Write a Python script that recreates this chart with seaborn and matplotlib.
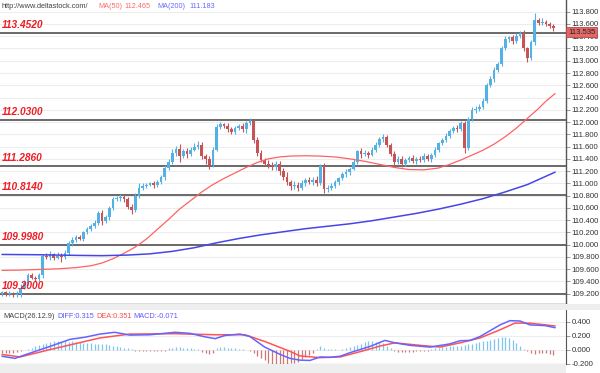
import numpy as np
import pandas as pd
import matplotlib
matplotlib.use("Agg")
import matplotlib.pyplot as plt
import seaborn as sns
from matplotlib.patches import Rectangle

#%% data
closes = [
    109.22, 109.19, 109.21, 109.18, 109.20, 109.30, 109.38, 109.50, 109.46, 109.44,
    109.50, 109.82, 109.80, 109.84, 109.79, 109.82, 109.80, 109.86, 110.02, 110.08,
    110.12, 110.10, 110.20, 110.25, 110.30, 110.36, 110.52, 110.38, 110.45, 110.60,
    110.74, 110.76, 110.78, 110.74, 110.62, 110.56, 110.80, 110.92, 110.96, 110.98,
    111.00, 110.97, 111.02, 111.10, 111.25, 111.35, 111.50, 111.56, 111.45, 111.52,
    111.48, 111.55, 111.60, 111.63, 111.45, 111.40, 111.30, 111.55, 111.92, 111.96,
    111.94, 111.88, 111.84, 111.90, 111.93, 111.88, 111.98, 112.02, 111.70, 111.50,
    111.38, 111.32, 111.30, 111.26, 111.32, 111.20, 111.10, 111.02, 110.95, 110.98,
    110.92, 111.00, 111.05, 111.02, 111.06, 111.00, 111.28, 110.90, 110.92, 110.96,
    111.02, 111.08, 111.15, 111.18, 111.24, 111.35, 111.52, 111.48, 111.50, 111.47,
    111.55, 111.62, 111.72, 111.75, 111.62, 111.48, 111.35, 111.40, 111.32, 111.38,
    111.42, 111.36, 111.40, 111.38, 111.44, 111.40, 111.46, 111.55, 111.65, 111.70,
    111.78, 111.85, 111.90, 111.88, 111.98, 111.58, 112.05, 112.20, 112.22, 112.25,
    112.35, 112.60, 112.70, 112.85, 112.95, 113.20, 113.35, 113.38, 113.32, 113.40,
    113.45, 113.20, 113.04, 113.30, 113.66, 113.62, 113.64, 113.60, 113.57, 113.535,
]
first_open = 109.20

# wick lengths above / below the body
upper_wick = [
    .03, .02, .03, .02, .04, .05, .04, .03, .04, .03,
    .03, .03, .04, .05, .03, .06, .04, .05, .04, .05,
    .03, .04, .03, .04, .03, .04, .03, .05, .04, .03,
    .04, .03, .04, .03, .03, .04, .05, .08, .04, .03,
    .03, .04, .03, .04, .05, .04, .06, .05, .08, .04,
    .05, .04, .05, .06, .04, .03, .05, .04, .05, .04,
    .03, .04, .04, .03, .04, .05, .04, .04, .03, .05,
    .05, .04, .06, .05, .04, .04, .05, .08, .03, .06,
    .04, .05, .04, .05, .04, .06, .04, .05, .06, .05,
    .04, .03, .04, .05, .03, .04, .03, .05, .04, .03,
    .04, .05, .04, .05, .04, .03, .04, .05, .04, .03,
    .03, .04, .03, .04, .05, .04, .03, .04, .03, .04,
    .04, .03, .04, .05, .04, .04, .03, .05, .04, .04,
    .04, .03, .05, .04, .03, .04, .05, .03, .04, .05,
    .04, .05, .03, .04, .12, .04, .05, .03, .04, .03,
]
lower_wick = [
    .04, .03, .02, .04, .03, .06, .03, .04, .02, .03,
    .03, .04, .03, .05, .04, .03, .08, .04, .03, .04,
    .03, .02, .04, .03, .03, .03, .04, .06, .03, .04,
    .03, .03, .04, .05, .04, .06, .03, .04, .03, .04,
    .03, .04, .03, .03, .04, .03, .04, .05, .10, .04,
    .06, .04, .03, .04, .05, .08, .06, .04, .03, .04,
    .04, .05, .03, .04, .03, .04, .06, .03, .04, .05,
    .04, .03, .05, .04, .04, .06, .05, .04, .06, .04,
    .04, .03, .04, .03, .04, .05, .03, .06, .04, .03,
    .03, .04, .03, .04, .05, .03, .04, .06, .04, .05,
    .03, .04, .03, .04, .03, .04, .06, .04, .05, .04,
    .04, .03, .04, .03, .04, .03, .05, .03, .04, .03,
    .03, .04, .03, .04, .03, .08, .04, .03, .05, .04,
    .03, .04, .03, .04, .03, .04, .03, .05, .04, .03,
    .03, .04, .06, .03, .04, .04, .03, .04, .03, .05,
]

# moving averages (candle index, value)
ma50_idx = [0, 5, 10, 15, 20, 24, 27, 30, 33, 36, 39, 42, 45, 48, 51, 54, 57, 60, 63,
            66, 69, 72, 75, 78, 82, 86, 90, 94, 98, 102, 106, 110, 114, 118, 121, 124,
            127, 130, 133, 136, 139, 142, 145, 147, 149.5]
ma50_val = [109.580, 109.585, 109.595, 109.605, 109.625, 109.655, 109.700, 109.770,
            109.860, 109.960, 110.090, 110.250, 110.410, 110.580, 110.720, 110.860,
            110.980, 111.080, 111.170, 111.260, 111.340, 111.400, 111.430, 111.445,
            111.450, 111.445, 111.430, 111.400, 111.360, 111.310, 111.260, 111.225,
            111.220, 111.250, 111.310, 111.380, 111.460, 111.540, 111.640, 111.760,
            111.900, 112.060, 112.220, 112.340, 112.465]
ma200_idx = [0, 10, 20, 27, 34, 40, 46, 52, 58, 64, 70, 76, 82, 88, 94, 100, 106, 112,
             118, 124, 130, 136, 142, 149.5]
ma200_val = [109.840, 109.835, 109.825, 109.820, 109.830, 109.850, 109.890, 109.950,
             110.030, 110.100, 110.160, 110.210, 110.260, 110.300, 110.340, 110.390,
             110.450, 110.510, 110.580, 110.660, 110.750, 110.860, 110.980, 111.183]

levels = [113.452, 112.030, 111.286, 110.814, 109.998, 109.200]
level_labels = ["113.4520", "112.0300", "111.2860", "110.8140", "109.9980", "109.2000"]

# MACD panel
macd_hist = [
    -0.04, -0.05, -0.05, -0.04, -0.03, -0.02, 0.00, 0.01,
    0.03, 0.05, 0.07, 0.09, 0.10, 0.11, 0.12,
    0.12, 0.12, 0.12, 0.11, 0.12, 0.11,
    0.11, 0.10, 0.10, 0.10, 0.09, 0.09,
    0.08, 0.08, 0.07, 0.06, 0.05, 0.04, 0.03, 0.02, 0.01,
    -0.01, -0.02, -0.02, -0.02, -0.01, -0.01, -0.02, -0.01, -0.01,
    0.02, 0.03, 0.04, 0.04, 0.03, 0.03, 0.02, 0.01, 0.01,
    -0.03, -0.05, -0.06, -0.04,
    0.02, 0.04, 0.04, 0.03, 0.03, 0.02, 0.01, 0.01, 0.00,
    -0.02, -0.05, -0.09, -0.12,
    -0.15, -0.18, -0.20, -0.20, -0.20, -0.20, -0.20, -0.19, -0.18, -0.17,
    -0.13, -0.10, -0.07, -0.04,
    0.01, 0.05, 0.03, 0.01, 0.01, 0.01, 0.00, 0.01,
    0.03, 0.04, 0.05, 0.07,
    0.09, 0.11, 0.12, 0.12, 0.11, 0.11, 0.10, 0.06,
    0.02, -0.02, -0.03, -0.03, -0.03, -0.03,
    -0.03, -0.02, -0.02, -0.02, -0.01,
    0.01, 0.02, 0.03, 0.04, 0.04, 0.05, 0.05, 0.06,
    0.06, 0.07, 0.08, 0.09, 0.10, 0.11, 0.12, 0.13,
    0.14, 0.16, 0.17, 0.18, 0.18, 0.17,
    0.14, 0.10, 0.05, 0.01, -0.02,
    -0.05, -0.06, -0.05, -0.04, -0.05, -0.06, -0.07,
]
diff_idx = [0, 3.5, 6.2, 13, 18.4, 22.4, 26.5, 30.5, 34.6, 40, 46.8, 50.8, 54.9, 57.6,
            60.3, 64.3, 67, 71, 75, 77.8, 80.5, 83.2, 86, 88.6, 91.4, 94, 96.8, 99.5,
            103.5, 106.2, 110.3, 115.7, 121, 123.8, 126.5, 129.2, 134.6, 137.3, 140,
            142.7, 146.8, 149.5]
diff_val = [-0.09, -0.12, -0.07, 0.05, 0.15, 0.18, 0.225, 0.25, 0.21, 0.215, 0.25, 0.235,
            0.185, 0.16, 0.205, 0.225, 0.19, 0.04, -0.06, -0.12, -0.145, -0.15, -0.10,
            -0.105, -0.09, -0.04, 0.005, 0.05, 0.135, 0.10, 0.065, 0.04, 0.085, 0.13,
            0.135, 0.19, 0.355, 0.415, 0.41, 0.355, 0.345, 0.315]
dea_idx = [0, 4.9, 13, 26.5, 34.6, 46.8, 57.6, 65.7, 71, 77.8, 80.5, 86, 91.4, 96.8,
           102.2, 106.2, 113, 118.4, 123.8, 129.2, 134.6, 138.6, 142.7, 149.5]
dea_val = [-0.065, -0.10, 0.005, 0.17, 0.225, 0.23, 0.215, 0.215, 0.12, -0.02, -0.085,
           -0.11, -0.10, -0.025, 0.055, 0.10, 0.065, 0.04, 0.10, 0.17, 0.285, 0.38, 0.38,
           0.34]

#%% build the candle table
n = len(closes)
df = pd.DataFrame({"close": closes})
df["open"] = [first_open] + closes[:-1]
df["high"] = df[["open", "close"]].max(axis=1) + np.array(upper_wick)
df["low"] = df[["open", "close"]].min(axis=1) - np.array(lower_wick)
df["i"] = np.arange(n)
df["up"] = df["close"] >= df["open"]

up_col = "#55b1e3"
dn_col = "#c65456"

#%% figure
sns.set_style("white")
plt.rcParams["font.family"] = ["Liberation Sans", "DejaVu Sans"]

W, H = 600, 373
fig = plt.figure(figsize=(6, 3.73), dpi=100)
fig.patch.set_facecolor("white")

ax = fig.add_axes([0, 1 - 304 / H, 566 / W, 304 / H])
ax2 = fig.add_axes([0, 1 - 364 / H, 566 / W, 54 / H])

# gap bands
fig.patches.append(Rectangle((0, 1 - 310 / H), 1, 6 / H, transform=fig.transFigure,
                             facecolor="#eeeeee", edgecolor="none", zorder=0))
fig.patches.append(Rectangle((0, 0), 566 / W, 9 / H, transform=fig.transFigure,
                             facecolor="#eeeeee", edgecolor="none", zorder=0))

px_per_unit = 61.3
y_top = 113.8 + 11.7 / px_per_unit
y_bot = 113.8 - (304 - 11.7) / px_per_unit
x_lo = -2 / 3.7
x_hi = (566 - 2) / 3.7

# grid
ticks = np.round(np.arange(109.2, 113.81, 0.2), 1)
for t in ticks:
    ax.axhline(t, color="#ededed", lw=0.8, zorder=0)

# candles
colors = np.where(df["up"], up_col, dn_col)
ax.vlines(df["i"], df["low"], df["high"], colors=colors, lw=0.8, zorder=3)
body_lo = df[["open", "close"]].min(axis=1)
body_h = (df["close"] - df["open"]).abs().clip(lower=0.012)
ax.bar(df["i"], body_h, bottom=body_lo, width=0.74, color=colors, edgecolor="none", zorder=4)

# moving averages
sns.lineplot(x=ma50_idx, y=ma50_val, ax=ax, color="#ff6262", lw=0.9, zorder=5)
sns.lineplot(x=ma200_idx, y=ma200_val, ax=ax, color="#4646e8", lw=1.1, zorder=5)

# level lines + labels
for lv, lab in zip(levels, level_labels):
    ax.axhline(lv, color="#5e5e5e", lw=1.3, zorder=2)
    ax.annotate(lab, xy=(0.004, lv), xycoords=("axes fraction", "data"),
                xytext=(0, 2), textcoords="offset points", ha="left", va="bottom",
                color="#ee1c24", fontsize=7.3, fontweight="bold", fontstyle="italic", zorder=6)

ax.set_xlim(x_lo, x_hi)
ax.set_ylim(y_bot, y_top)
ax.set_xticks([])
ax.yaxis.tick_right()
ax.set_yticks(ticks)
ax.set_yticklabels([f"{t:.3f}" for t in ticks])
ax.tick_params(axis="y", direction="out", length=3, width=0.6, pad=1,
               labelsize=5.6, colors="#888888", labelcolor="#333333")
for s in ["top", "left"]:
    ax.spines[s].set_visible(False)
ax.spines["right"].set_color("#555555")
ax.spines["bottom"].set_color("#555555")
ax.spines["right"].set_linewidth(1)
ax.spines["bottom"].set_linewidth(1)
ax.set_xlabel("")
ax.set_ylabel("")

# header
hy = 1 - 7 / H
fig.text(2 / W, hy, "http://www.deltastock.com/", fontsize=5.3, color="#444444", va="center")
fig.text(98 / W, hy, "MA(50)", fontsize=5.2, color="#ff6a6a", va="center")
fig.text(124 / W, hy, "112.465", fontsize=5.2, color="#ff6a6a", va="center")
fig.text(157 / W, hy, "MA(200)", fontsize=5.2, color="#6a6aff", va="center")
fig.text(189 / W, hy, "111.183", fontsize=5.2, color="#6a6aff", va="center")

# last price tag
fig.patches.append(Rectangle((566 / W, 1 - 37 / H), 31 / W, 9.5 / H, transform=fig.transFigure,
                             facecolor="#e06868", edgecolor="#b84848", lw=0.6, zorder=10))
fig.text(568 / W, 1 - 32.3 / H, "113.535", fontsize=5.6, color="#3a2020", va="center", zorder=11)

#%% MACD panel
mv = 71.5
m_top = (350.5 - 310) / mv
m_bot = (350.5 - 364) / mv
for t in [0.4, 0.2, 0.0]:
    ax2.axhline(t, color="#ededed", lw=0.8, zorder=0)
hcols = ["#7fc4ea" if h >= 0 else "#cf7576" for h in macd_hist]
ax2.vlines(np.arange(n), 0, macd_hist, colors=hcols, lw=0.9, zorder=2)
sns.lineplot(x=dea_idx, y=dea_val, ax=ax2, color="#ff5454", lw=1.1, zorder=4)
sns.lineplot(x=diff_idx, y=diff_val, ax=ax2, color="#6464ff", lw=1.1, zorder=4)
ax2.set_xlim(x_lo, x_hi)
ax2.set_ylim(m_bot, m_top)
ax2.set_xticks([])
ax2.yaxis.tick_right()
mticks = [0.4, 0.2, 0.0, -0.2]
ax2.set_yticks(mticks)
ax2.set_yticklabels([f"{t:.3f}" for t in mticks])
ax2.tick_params(axis="y", direction="out", length=3, width=0.6, pad=1,
                labelsize=5.6, colors="#888888", labelcolor="#333333")
for s in ["top", "left"]:
    ax2.spines[s].set_visible(False)
ax2.spines["right"].set_color("#555555")
ax2.spines["bottom"].set_color("#555555")
ax2.set_xlabel("")
ax2.set_ylabel("")

my = 1 - 316 / H
fig.text(3 / W, my, "MACD(26.12.9)", fontsize=5.3, color="#444444", va="center")
fig.text(57 / W, my, "DIFF:0.315", fontsize=5.3, color="#5a5aff", va="center")
fig.text(96 / W, my, "DEA:0.351", fontsize=5.3, color="#ff4d4d", va="center")
fig.text(133 / W, my, "MACD:-0.071", fontsize=5.3, color="#6a5aff", va="center")

fig.savefig("out.png", dpi=100, facecolor=fig.get_facecolor())
